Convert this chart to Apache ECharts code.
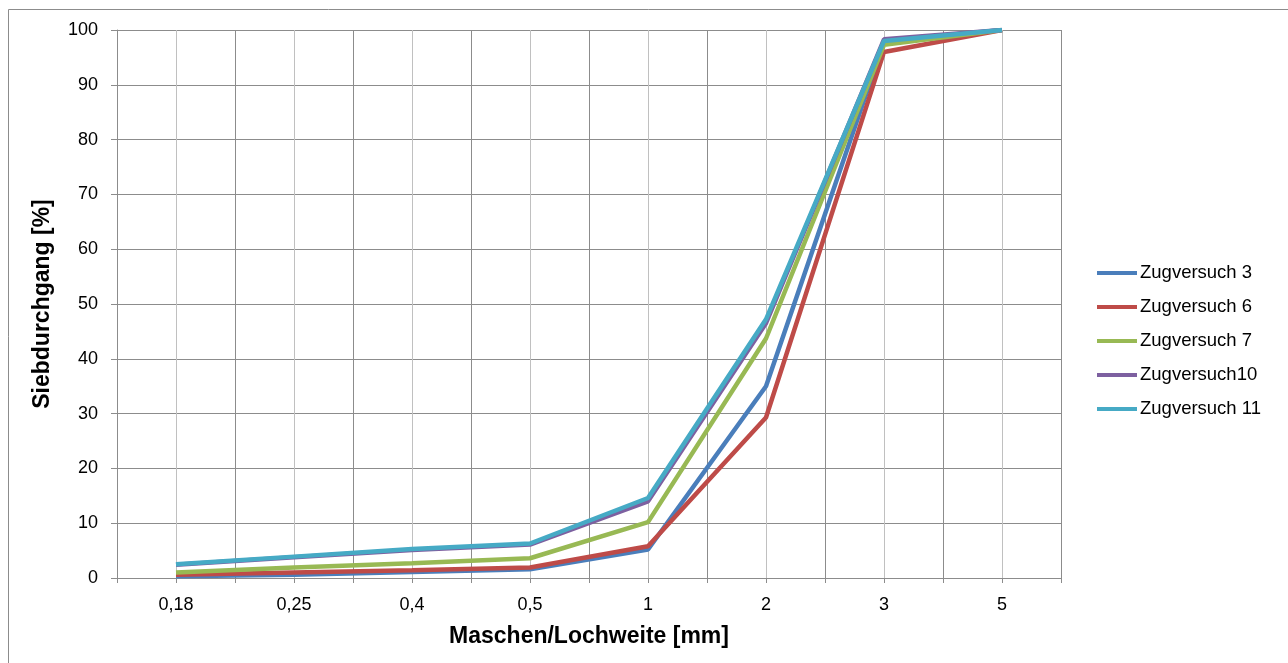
<!DOCTYPE html>
<html>
<head>
<meta charset="utf-8">
<script src="https://cdn.jsdelivr.net/npm/echarts@6/dist/echarts.min.js"></script>
<style>html,body{margin:0;padding:0;background:#fff}#c{width:1288px;height:663px}</style>
</head>
<body>
<div id="c"></div>
<script>
const categories = ['0,18','0,25','0,4','0,5','1','2','3','5'];
const z3  = [0.3, 0.6, 1.1, 1.6, 5.2, 35.0, 97.8, 100];
const z6  = [0.6, 1.0, 1.4, 1.9, 5.8, 29.3, 96.0, 100];
const z7  = [1.0, 1.9, 2.7, 3.6, 10.2, 43.7, 97.3, 100];
const z10 = [2.4, 3.8, 5.1, 6.1, 14.0, 46.5, 98.3, 100];
const z11 = [2.5, 3.9, 5.3, 6.3, 14.6, 47.2, 98.0, 100];
const seriesNames = ['Zugversuch 3','Zugversuch 6','Zugversuch 7','Zugversuch10','Zugversuch 11'];
const seriesData = [z3, z6, z7, z10, z11];
const colors = ['#4a7ebb','#be4b48','#98b954','#7d60a0','#46aac5'];

const font = '"Liberation Sans", Arial, sans-serif';
const chart = echarts.init(document.getElementById('c'), null, {renderer:'canvas'});
chart.setOption({
  animation: false,
  color: colors,
  graphic: [{
    type: 'rect', z: -10, silent: true,
    shape: {x: 8.5, y: 9.5, width: 1400, height: 800},
    style: {fill: 'none', stroke: '#8c8c8c', lineWidth: 1}
  }],
  grid: {left: 117, top: 30, right: 227, bottom: 85, containLabel: false},
  legend: {
    orient: 'vertical', left: 1092, top: 258, itemGap: 14,
    itemWidth: 40, itemHeight: 20,
    textStyle: {fontFamily: font, fontSize: 18.5, lineHeight: 20, color: '#000', padding: [0,0,0,-2]},
    data: seriesNames.map(n => ({name: n, icon: 'path://M0,8L40,8L40,12L0,12Z'}))
  },
  xAxis: [{
    type: 'category', data: categories, boundaryGap: true,
    axisLine: {show: false}, axisTick: {show: false}, splitLine: {show: false},
    axisLabel: {fontFamily: font, fontSize: 18, color: '#000', margin: 18},
    name: 'Maschen/Lochweite [mm]', nameLocation: 'middle', nameGap: 47,
    nameTextStyle: {fontFamily: font, fontSize: 23, fontWeight: 'bold', color: '#000'}
  }, {
    type: 'value', min: 0, max: 8, interval: 0.5, position: 'bottom',
    axisLine: {show: true, lineStyle: {color: '#8c8c8c', width: 1}},
    axisTick: {show: true, inside: false, length: 5, lineStyle: {color: '#8c8c8c'}},
    axisLabel: {show: false},
    splitLine: {show: true, lineStyle: {color: ['#8c8c8c', '#c0c0c0'], width: 1}}
  }],
  yAxis: {
    type: 'value', min: 0, max: 100, interval: 10,
    axisLine: {show: true, lineStyle: {color: '#8c8c8c', width: 1}},
    axisTick: {show: true, length: 6, lineStyle: {color: '#8c8c8c'}},
    axisLabel: {fontFamily: font, fontSize: 18, color: '#000', margin: 19},
    splitLine: {show: true, lineStyle: {color: '#8c8c8c', width: 1}},
    name: 'Siebdurchgang [%]', nameLocation: 'middle', nameGap: 63, nameRotate: 90,
    nameTextStyle: {fontFamily: font, fontSize: 23, fontWeight: 'bold', color: '#000'}
  },
  series: seriesNames.map((n, i) => ({
    name: n, type: 'line', xAxisIndex: 0, data: seriesData[i],
    showSymbol: false, symbol: 'none',
    lineStyle: {width: 4.5, color: colors[i]}, itemStyle: {color: colors[i]}
  }))
});
</script>
</body>
</html>
